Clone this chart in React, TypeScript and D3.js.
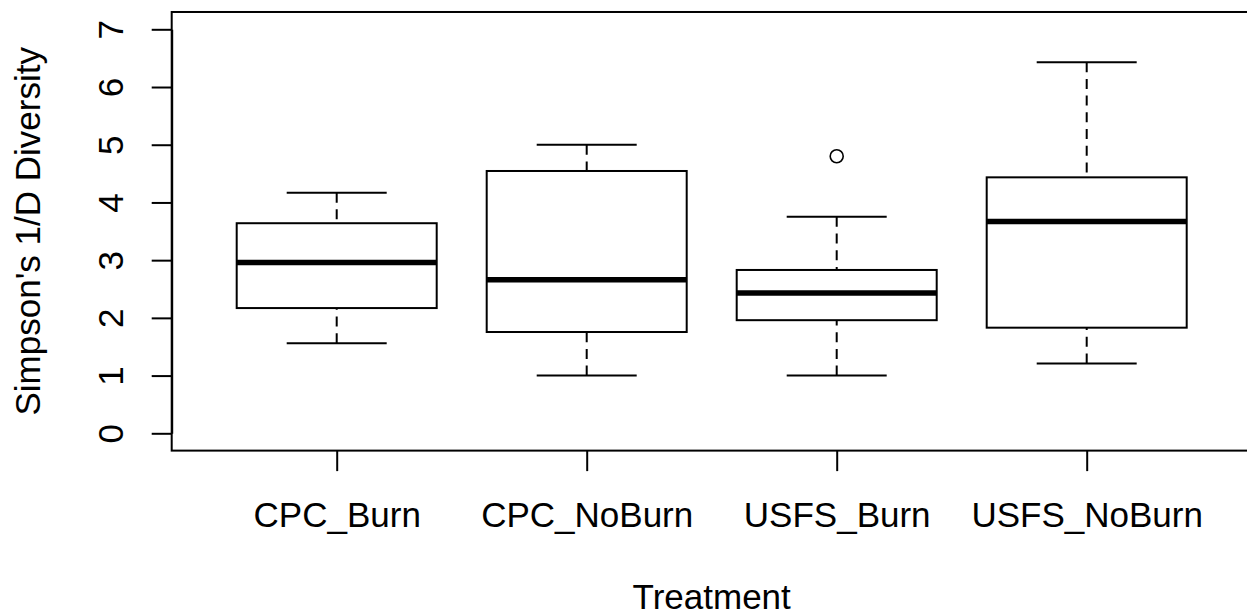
import React, { useEffect, useRef } from 'react';
import * as d3 from 'd3';

const categories = ['CPC_Burn', 'CPC_NoBurn', 'USFS_Burn', 'USFS_NoBurn'];
const lowerWhisker = [1.56, 1.0, 1.0, 1.21];
const q1 = [2.17, 1.755, 1.96, 1.83];
const median = [2.96, 2.66, 2.43, 3.67];
const q3 = [3.64, 4.545, 2.83, 4.435];
const upperWhisker = [4.17, 5.0, 3.75, 6.43];
const outliers = [[], [], [4.8], []];
const yTicks = [0, 1, 2, 3, 4, 5, 6, 7];

const width = 1247;
const height = 616;
const font = '"Liberation Sans", Arial, sans-serif';
const fontSize = 35;

const App = () => {
  const ref = useRef<SVGSVGElement | null>(null);

  useEffect(() => {
    if (!ref.current) return;
    const svg = d3.select(ref.current);
    svg.selectAll('*').remove();

    // R style: x runs 0.34..4.66 (4% padding around 0.5..4.5)
    const x = d3.scaleLinear().domain([0.34, 4.66]).range([171.7, 1251.7]);
    const y = d3.scaleLinear().domain([0, 7]).range([433.3, 29.3]);
    const boxW = x(1.8) - x(1); // box width 0.8
    const capHalf = boxW / 4;

    svg.append('rect').attr('width', width).attr('height', height).attr('fill', '#fff');

    // plot frame
    svg
      .append('rect')
      .attr('x', x(0.34))
      .attr('y', y(7.3))
      .attr('width', x(4.66) - x(0.34))
      .attr('height', y(-0.3) - y(7.3))
      .attr('fill', 'none')
      .attr('stroke', '#000')
      .attr('stroke-width', 2);

    const yAxis = svg
      .append('g')
      .attr('transform', `translate(${x(0.34)},0)`)
      .call(d3.axisLeft(y).tickValues(yTicks).tickSize(20).tickSizeOuter(0).tickFormat(d3.format('d')));
    yAxis.select('.domain').attr('stroke-width', 2);
    yAxis.selectAll('line').attr('stroke-width', 2);
    yAxis
      .selectAll('text')
      .attr('transform', 'rotate(-90)')
      .attr('x', 0)
      .attr('y', -48.4)
      .attr('dy', null)
      .attr('text-anchor', 'middle')
      .style('font-family', font)
      .style('font-size', `${fontSize}px`)
      .attr('fill', '#000');

    const xAxis = svg
      .append('g')
      .attr('transform', `translate(0,${y(-0.3)})`)
      .call(
        d3
          .axisBottom(x)
          .tickValues(categories.map((_, i) => i + 1))
          .tickSize(20.5)
          .tickSizeOuter(0)
          .tickFormat((d) => categories[(d as number) - 1])
      );
    xAxis.select('.domain').remove();
    xAxis.selectAll('line').attr('stroke-width', 2);
    xAxis
      .selectAll('text')
      .attr('y', 76)
      .attr('dy', null)
      .style('font-family', font)
      .style('font-size', `${fontSize}px`)
      .attr('fill', '#000');

    // axis titles
    svg
      .append('text')
      .attr('x', x(2.5))
      .attr('y', 609)
      .attr('text-anchor', 'middle')
      .style('font-family', font)
      .style('font-size', `${fontSize}px`)
      .text('Treatment');
    svg
      .append('text')
      .attr('transform', `translate(39.5,${y(3.5)}) rotate(-90)`)
      .attr('text-anchor', 'middle')
      .style('font-family', font)
      .style('font-size', `${fontSize}px`)
      .text("Simpson's 1/D Diversity");

    const boxes = svg
      .append('g')
      .selectAll('g')
      .data(categories)
      .enter()
      .append('g');

    boxes.each(function (_, i) {
      const g = d3.select(this);
      const cx = x(i + 1);
      // whiskers, dashed, drawn from cap to box
      g.append('line')
        .attr('x1', cx).attr('x2', cx)
        .attr('y1', y(upperWhisker[i])).attr('y2', y(q3[i]))
        .attr('stroke', '#000').attr('stroke-width', 2)
        .attr('stroke-dasharray', '10,6.7');
      g.append('line')
        .attr('x1', cx).attr('x2', cx)
        .attr('y1', y(lowerWhisker[i])).attr('y2', y(q1[i]))
        .attr('stroke', '#000').attr('stroke-width', 2)
        .attr('stroke-dasharray', '10,6.7');
      [upperWhisker[i], lowerWhisker[i]].forEach((v) => {
        g.append('line')
          .attr('x1', cx - capHalf).attr('x2', cx + capHalf)
          .attr('y1', y(v)).attr('y2', y(v))
          .attr('stroke', '#000').attr('stroke-width', 2);
      });
      g.append('rect')
        .attr('x', cx - boxW / 2)
        .attr('y', y(q3[i]))
        .attr('width', boxW)
        .attr('height', y(q1[i]) - y(q3[i]))
        .attr('fill', '#fff')
        .attr('stroke', '#000')
        .attr('stroke-width', 2);
      g.append('line')
        .attr('x1', cx - boxW / 2).attr('x2', cx + boxW / 2)
        .attr('y1', y(median[i])).attr('y2', y(median[i]))
        .attr('stroke', '#000').attr('stroke-width', 5.5);
      outliers[i].forEach((v) => {
        g.append('circle')
          .attr('cx', cx).attr('cy', y(v)).attr('r', 6.5)
          .attr('fill', 'none').attr('stroke', '#000').attr('stroke-width', 1.6);
      });
    });
  }, []);

  return (
    <svg
      ref={ref}
      width={width}
      height={height}
      style={{ position: 'absolute', left: 0, top: 0 }}
    />
  );
};

export default App;
